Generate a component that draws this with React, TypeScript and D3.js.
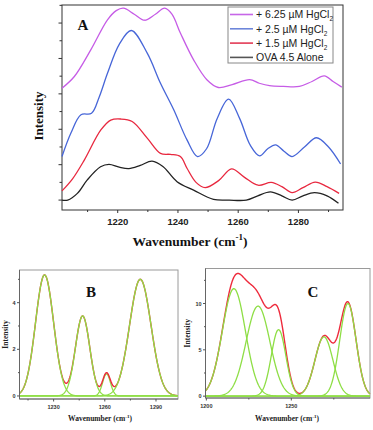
import React from "react";
import * as d3 from "d3";

// ---------- Panel A data (wavenumber, intensity) ----------
const seriesNames = ["+ 6.25 µM HgCl", "+ 2.5 µM HgCl", "+ 1.5 µM HgCl", "OVA 4.5 Alone"];
const seriesSub = ["2", "2", "2", ""];
const seriesColors = ["#c65ce6", "#4766d8", "#e8283f", "#222222"];
const legendColors = ["#c766e8", "#6d86da", "#e23a55", "#555555"];

const aloneData: [number, number][] = [
  [1201.5, 0], [1203.4, 0.0], [1206.6, 0.19], [1209.9, 0.57], [1214.3, 0.94], [1217.1, 1.01],
  [1220.5, 0.93], [1223.7, 0.89], [1227.5, 0.98], [1231.4, 1.1], [1235, 0.95], [1239.7, 0.52],
  [1245.2, 0.28], [1251.8, 0.02], [1257, 0], [1262.7, 0], [1266.5, 0.12], [1270.7, 0.23],
  [1274.5, 0.12], [1277.9, 0], [1281.5, 0.12], [1285.3, 0.21], [1289.5, 0.12], [1293.3, -0.09],
];
const red15Data: [number, number][] = [
  [1201.5, 0.26], [1205, 0.6], [1208.9, 1.13], [1214.4, 1.98], [1217.7, 2.26], [1221, 2.29],
  [1224.8, 2.22], [1229.8, 1.75], [1234.2, 1.32], [1237.5, 1.29], [1240.8, 1.23], [1243, 0.9],
  [1246, 0.5], [1249, 0.35], [1253.5, 0.55], [1257.8, 0.88], [1262, 0.65], [1266.6, 0.42],
  [1271, 0.5], [1274.5, 0.38], [1277.9, 0.21], [1281.5, 0.35], [1285.6, 0.51], [1289.5, 0.38],
  [1293.5, 0.19],
];
const blue25Data: [number, number][] = [
  [1201.5, 1.23], [1204.5, 1.9], [1207.8, 2.41], [1211.3, 2.45], [1213.8, 2.9], [1216.6, 3.58],
  [1220.5, 4.4], [1224.5, 4.79], [1229.8, 4.15], [1234.2, 3.3], [1238.6, 2.55], [1243, 1.7],
  [1246.5, 1.23], [1249.5, 1.45], [1253, 2.3], [1256.8, 2.85], [1260.5, 2.3], [1264, 1.55],
  [1267.1, 1.25], [1269.8, 1.45], [1272.4, 1.56], [1275.2, 1.38], [1277.9, 1.23], [1282, 1.5],
  [1286, 1.76], [1290, 1.5], [1294, 1.02],
];
const mag625Data: [number, number][] = [
  [1201.5, 3.16], [1205.6, 3.49], [1211.1, 4.25], [1216.6, 5.09], [1219.5, 5.35], [1221.9, 5.42],
  [1225.5, 5.25], [1228.9, 5.08], [1232.5, 5.25], [1235.6, 5.42], [1238, 5.25], [1240.8, 4.72],
  [1245.2, 3.96], [1249.6, 3.4], [1253.4, 3.18], [1258, 3.26], [1263.8, 3.4], [1267, 3.3],
  [1270.4, 3.23], [1275, 3.21], [1280.3, 3.21], [1284.5, 3.35], [1288.6, 3.51], [1291.5, 3.35],
  [1294.4, 3.19],
];
const seriesData = [mag625Data, blue25Data, red15Data, aloneData];
const aXTicks = [1220, 1240, 1260, 1280];
const aXMinor = [1210, 1230, 1250, 1270, 1290];

// ---------- Panel B fit components ----------
const bCenters = [1224.7, 1247, 1261, 1280.8];
const bHeights = [5.19, 3.43, 0.95, 5.0];
const bWidths = [5.3, 4.2, 2.3, 6.3];
const bXTicks = [1230, 1260, 1290];
const bYTicks = [0, 2, 4];

// ---------- Panel C fit components ----------
const cCenters = [1216.2, 1230.4, 1242.5, 1269.2, 1283.3];
const cHeights = [11.6, 9.72, 7.18, 6.4, 10.0];
const cWidths = [6.8, 7.0, 4.3, 5.3, 4.8];
const cXTicks = [1200, 1250];
const cYTicks = [0, 5, 10];

const gauss = (x: number, c: number, h: number, w: number) => h * Math.exp(-((x - c) ** 2) / (2 * w * w));

function FitPanel(props: {
  x0: number; x1: number; y0: number; y1: number;
  xDom: [number, number]; yDom: [number, number];
  centers: number[]; heights: number[]; widths: number[];
  xTicks: number[]; xMinor: number[]; yTicks: number[]; yMinor: number[];
  letter: string; letterX: number; letterY: number; labelX: number; intensityX: number;
}) {
  const p = props;
  const x = d3.scaleLinear().domain(p.xDom).range([p.x0, p.x1]);
  const y = d3.scaleLinear().domain(p.yDom).range([p.y1, p.y0]);
  const grid = d3.range(p.xDom[0], p.xDom[1] + 0.001, 0.25);
  const line = d3.line<[number, number]>().x((d) => x(d[0])).y((d) => y(d[1]));
  const sum: [number, number][] = grid.map((g) => [g, p.centers.reduce((s, c, i) => s + gauss(g, c, p.heights[i], p.widths[i]), 0)]);
  const comps = p.centers.map((c, i) => grid.map((g) => [g, gauss(g, c, p.heights[i], p.widths[i])] as [number, number]));
  const small = comps.filter((_, i) => p.heights[i] < 2);
  const big = comps.filter((_, i) => p.heights[i] >= 2);
  return (
    <g>
      <rect x={p.x0} y={p.y0} width={p.x1 - p.x0} height={p.y1 - p.y0} fill="none" stroke="#9a9a9a" strokeWidth={1} />
      {small.map((cd, i) => (
        <path key={"s" + i} d={line(cd) || ""} fill="none" stroke="#8ede45" strokeWidth={1.3} />
      ))}
      <path d={line(sum) || ""} fill="none" stroke="#ee2a3c" strokeWidth={1.4} />
      {big.map((cd, i) => (
        <path key={i} d={line(cd) || ""} fill="none" stroke="#8ede45" strokeWidth={1.3} />
      ))}
      <line x1={p.x0} x2={p.x0} y1={p.y0} y2={p.y1} stroke="#666" strokeWidth={1} />
      <line x1={p.x0} x2={p.x1} y1={p.y1} y2={p.y1} stroke="#666" strokeWidth={1} />
      {p.xTicks.map((t) => (
        <g key={"xt" + t}>
          <line x1={x(t)} x2={x(t)} y1={p.y1} y2={p.y1 + 2.5} stroke="#555" />
          <text x={x(t)} y={p.y1 + 9.5} fontSize={5.5} fontWeight="bold" fontFamily="Liberation Sans, Arial, sans-serif" textAnchor="middle" fill="#333">{t}</text>
        </g>
      ))}
      {p.xMinor.map((t) => (
        <line key={"xm" + t} x1={x(t)} x2={x(t)} y1={p.y1} y2={p.y1 + 1.5} stroke="#555" />
      ))}
      {p.yTicks.map((t) => (
        <g key={"yt" + t}>
          <line x1={p.x0 - 2.5} x2={p.x0} y1={y(t)} y2={y(t)} stroke="#555" />
          <text x={p.x0 - 4} y={y(t) + 2} fontSize={5.5} fontWeight="bold" fontFamily="Liberation Sans, Arial, sans-serif" textAnchor="end" fill="#333">{t}</text>
        </g>
      ))}
      {p.yMinor.map((t) => (
        <line key={"ym" + t} x1={p.x0 - 1.5} x2={p.x0} y1={y(t)} y2={y(t)} stroke="#555" />
      ))}
      <text x={p.letterX} y={p.letterY} fontSize={15} fontWeight="bold" fontFamily="Liberation Serif, Times New Roman, serif" textAnchor="middle" fill="#111">{p.letter}</text>
      <text x={p.labelX} y={421} fontSize={7.5} fontWeight="bold" fontFamily="Liberation Serif, Times New Roman, serif" textAnchor="middle" fill="#222">
        Wavenumber (cm<tspan fontSize={5} dy={-3}>-1</tspan><tspan dy={3}>)</tspan>
      </text>
      <text transform={`translate(${p.intensityX},${(p.y0 + p.y1) / 2}) rotate(-90)`} fontSize={7.5} fontWeight="bold" fontFamily="Liberation Serif, Times New Roman, serif" textAnchor="middle" fill="#222">Intensity</text>
    </g>
  );
}

export default function App() {
  // Panel A scales
  const ax = d3.scaleLinear().domain([1201.5, 1294.8]).range([62, 343]);
  const ay = d3.scaleLinear().domain([-0.28, 5.51]).range([210, 5]);
  const aLine = d3.line<[number, number]>().x((d) => ax(d[0])).y((d) => ay(d[1])).curve(d3.curveCatmullRom.alpha(0.5));
  const aYTicks = d3.range(0, 5.51, 1);
  const aYMinor = d3.range(0.5, 5.6, 1);
  const drawOrder = [3, 2, 1, 0];
  return (
    <svg width={373} height={430} style={{ position: "absolute", left: 0, top: 0, background: "#fff" }}>
      <rect x={0} y={0} width={373} height={430} fill="#fff" />
      {/* Panel A */}
      <rect x={62} y={5} width={281} height={205} fill="none" stroke="#333" strokeWidth={1} />
      {drawOrder.map((i) => (
        <path key={i} d={aLine(seriesData[i]) || ""} fill="none" stroke={seriesColors[i]} strokeWidth={1.3} />
      ))}
      {aYTicks.map((t) => (
        <line key={"ay" + t} x1={58.5} x2={62} y1={ay(t)} y2={ay(t)} stroke="#333" />
      ))}
      {aYMinor.map((t) => (
        <line key={"aym" + t} x1={59.5} x2={62} y1={ay(t)} y2={ay(t)} stroke="#333" />
      ))}
      {aXTicks.map((t) => (
        <g key={"ax" + t}>
          <line x1={ax(t)} x2={ax(t)} y1={210} y2={213} stroke="#333" />
          <text x={ax(t)} y={225} fontSize={9.5} fontWeight="bold" fontFamily="Liberation Sans, Arial, sans-serif" textAnchor="middle" fill="#222">{t}</text>
        </g>
      ))}
      {aXMinor.map((t) => (
        <line key={"axm" + t} x1={ax(t)} x2={ax(t)} y1={210} y2={212} stroke="#333" />
      ))}
      <text x={190} y={246} fontSize={13.5} fontWeight="bold" fontFamily="Liberation Serif, Times New Roman, serif" textAnchor="middle" fill="#111">
        Wavenumber (cm<tspan fontSize={9} dy={-6}>-1</tspan><tspan dy={6}>)</tspan>
      </text>
      <text transform="translate(43,116) rotate(-90)" fontSize={13} fontWeight="bold" fontFamily="Liberation Serif, Times New Roman, serif" textAnchor="middle" fill="#111">Intensity</text>
      <text x={83} y={30} fontSize={15} fontWeight="bold" fontFamily="Liberation Serif, Times New Roman, serif" textAnchor="middle" fill="#111">A</text>
      {/* Legend */}
      <rect x={228} y={7} width={105} height={56} fill="#fff" stroke="#888" strokeWidth={1} />
      {seriesNames.map((n, i) => (
        <g key={n}>
          <line x1={230} x2={253} y1={14.5 + i * 14.3} y2={14.5 + i * 14.3} stroke={legendColors[i]} strokeWidth={1.6} />
          <text x={256} y={18.3 + i * 14.3} fontSize={10.5} fontFamily="Liberation Sans, Arial, sans-serif" fill="#222">
            {n}
            {seriesSub[i] ? <tspan fontSize={6.5} dy={3}>{seriesSub[i]}</tspan> : null}
          </text>
        </g>
      ))}
      {/* Panel B */}
      <FitPanel x0={19.5} x1={178} y0={270} y1={399} xDom={[1210, 1302.9]} yDom={[-0.13, 5.4]}
        centers={bCenters} heights={bHeights} widths={bWidths}
        xTicks={bXTicks} xMinor={[1215, 1245, 1275]} yTicks={bYTicks} yMinor={[1, 3, 5]}
        letter="B" letterX={91} letterY={297} labelX={100} intensityX={8} />
      {/* Panel C */}
      <FitPanel x0={205.5} x1={370} y0={268.5} y1={398} xDom={[1199.5, 1296.3]} yDom={[-0.2, 13.78]}
        centers={cCenters} heights={cHeights} widths={cWidths}
        xTicks={cXTicks} xMinor={[1225, 1275]} yTicks={cYTicks} yMinor={[2.5, 7.5, 12.5]}
        letter="C" letterX={313} letterY={297} labelX={287} intensityX={190} />
    </svg>
  );
}
